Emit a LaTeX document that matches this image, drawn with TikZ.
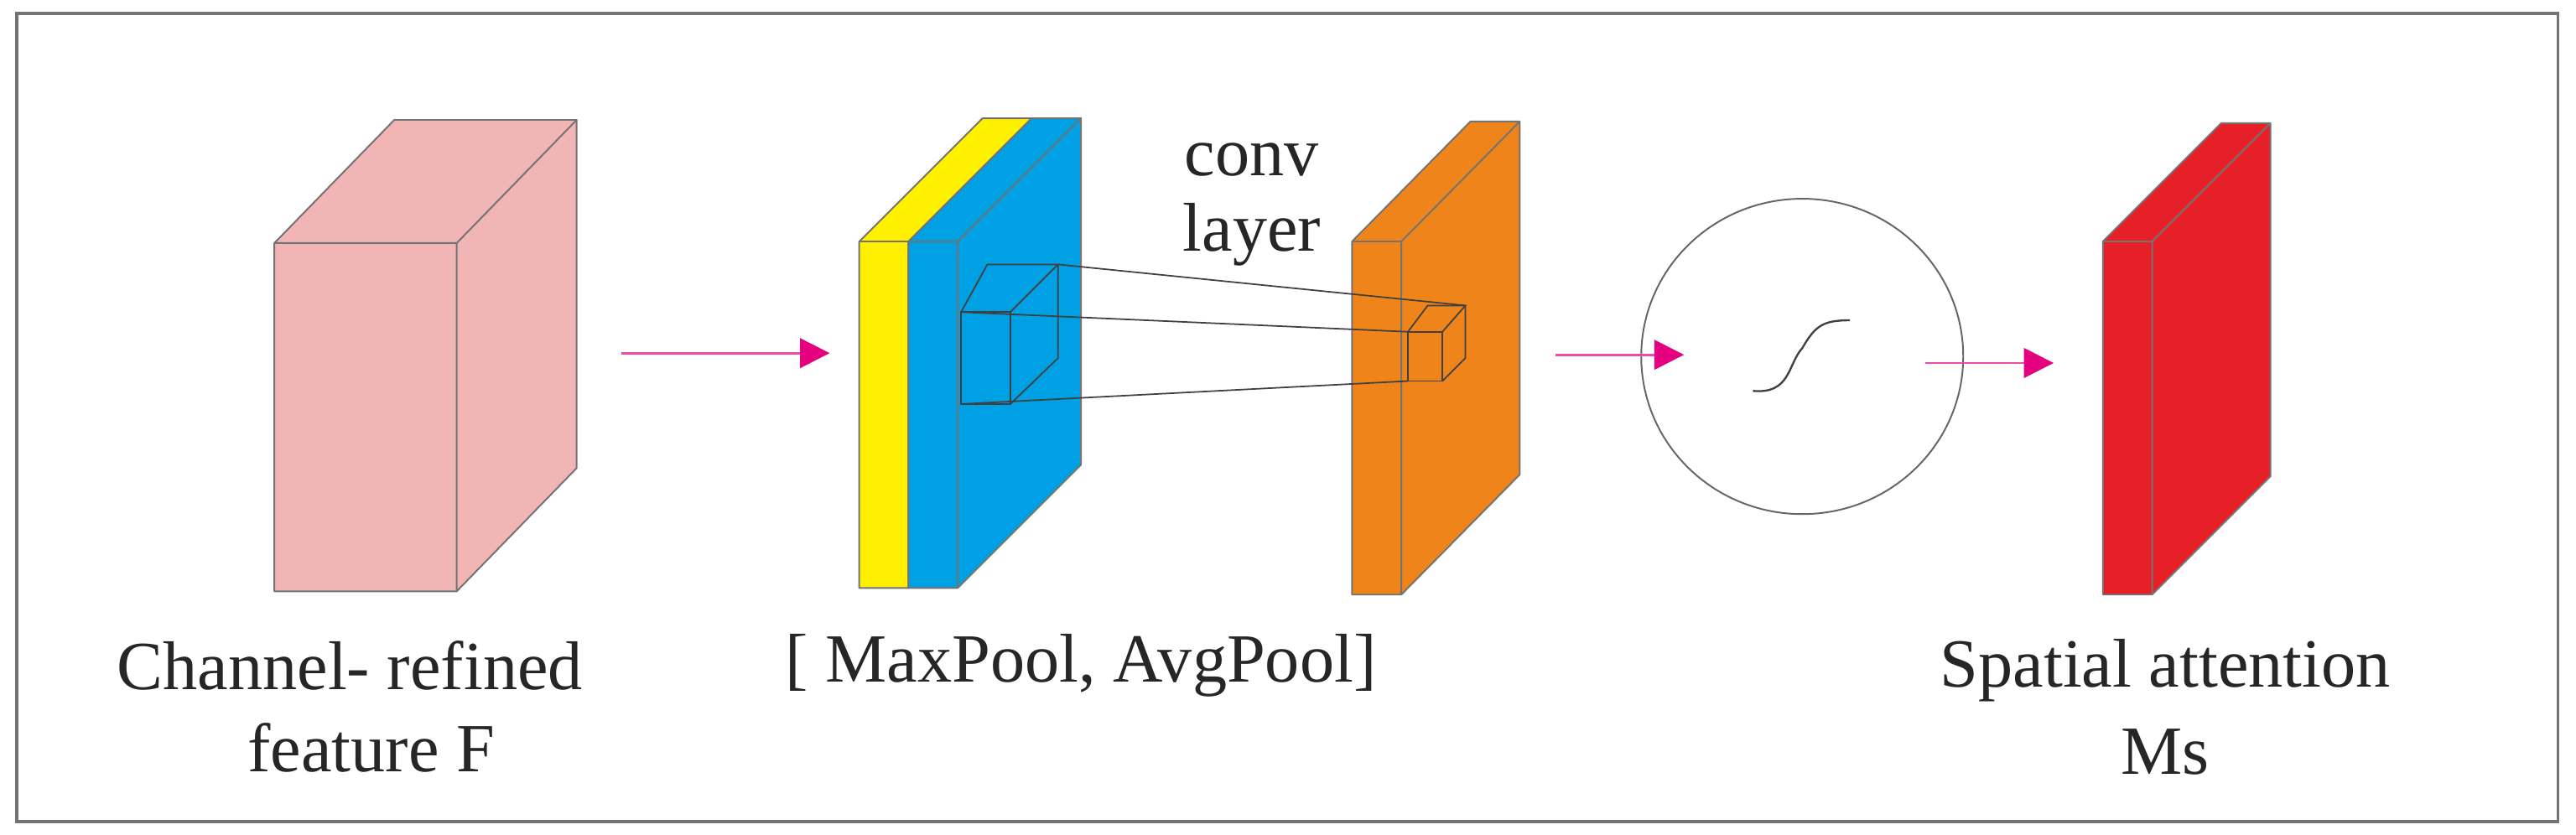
\documentclass[tikz,border=0pt]{standalone}
\usepackage{fontspec}
\setmainfont{Liberation Serif}
\usetikzlibrary{arrows.meta,shapes.geometric}
\definecolor{pinkF}{RGB}{242,181,182}
\definecolor{yelF}{RGB}{255,240,0}
\definecolor{bluF}{RGB}{0,160,228}
\definecolor{oraF}{RGB}{238,132,26}
\definecolor{redF}{RGB}{230,32,38}
\definecolor{magA}{RGB}{228,0,127}
\newcommand\slab[7]{% x1 y1 x2 y2 dx dy color
  \filldraw[fill=#7,draw=black!55,line width=0.5pt,line join=round]
    (#1,#2) rectangle (#3,#4)
    (#1,#2) -- ++(#5,#6) -- ($(#3,#2)+(#5,#6)$) -- (#3,#2) -- cycle
    (#3,#2) -- ++(#5,#6) -- ($(#3,#4)+(#5,#6)$) -- (#3,#4) -- cycle;}
\usetikzlibrary{calc}
\begin{document}
\begin{tikzpicture}[x=0.5pt,y=-0.5pt,
  flow/.style={draw=magA!70,line width=0.7pt,-{Triangle[length=9pt,width=9pt,fill=magA,color=magA]}},
  lbl/.style={font=\fontsize{21}{25}\selectfont,text=black!85,align=center,inner sep=0pt},
  thin line/.style={draw=black!75,line width=0.45pt}]
\useasboundingbox (0,0) rectangle (1568,508);
\draw[black!55,line width=1pt] (10,8) rectangle (1557,500);
% pink
\slab{167}{148}{278}{360}{73}{-75}{pinkF}
% yellow + blue
\slab{523}{147}{553}{358}{75}{-75}{yelF}
\slab{553}{147}{583}{358}{75}{-75}{bluF}
% orange
\slab{823}{147}{853}{362}{72}{-73}{oraF}
% red
\slab{1280}{147}{1310}{362}{72}{-72}{redF}
% kernel on blue
\draw[thin line] (585,190) rectangle (615,246);
\draw[thin line] (585,190) -- (601,161) -- (644,161) -- (615,190);
\draw[thin line] (644,161) -- (644,218) -- (615,246);
% small cube on orange
\draw[thin line] (857,202) rectangle (878,232);
\draw[thin line] (857,202) -- (869,186) -- (892,186) -- (878,202);
\draw[thin line] (892,186) -- (892,218) -- (878,232);
% connecting lines
\coordinate (k1) at (644,161); \coordinate (c1) at (892,186);
\coordinate (k2) at (585,190); \coordinate (c2) at (857,202);
\coordinate (k3) at (585,246); \coordinate (c3) at (857,232);
\draw[thin line] (k1) -- (c1) (k2) -- (c2) (k3) -- (c3);
% sigmoid
\node[ellipse,draw=black!60,line width=0.5pt,minimum width=98pt*0.5*2,minimum height=96pt*0.5*2,inner sep=0pt] (sig) at (1097,217) {};
\draw[black!75,line width=0.6pt] (1067,238) .. controls (1090,240) and (1088,222) .. (1097,212) .. controls (1105,198) and (1110,195) .. (1126,195);
% arrows
\coordinate (a1s) at (378,215); \coordinate (a1e) at (505,215);
\coordinate (a2s) at (947,216); \coordinate (a2e) at (1025,216);
\coordinate (a3s) at (1172,221); \coordinate (a3e) at (1250,221);
\draw[flow] (a1s) -- (a1e);
\draw[flow] (a2s) -- (a2e);
\draw[flow] (a3s) -- (a3e);
% labels
\node[lbl] (conv) at (762,97) {conv};
\node[lbl] (layer) at (762,143) {layer};
\node[lbl] (chan) at (213,405) {Channel- refined};
\node[lbl] (feat) at (226,455) {feature F};
\node[lbl] (pool) at (658,405) {[ MaxPool, AvgPool]};
\node[lbl] (spat) at (1318,408) {Spatial attention};
\node[lbl] (ms) at (1318,458) {Ms};
\end{tikzpicture}
\end{document}
